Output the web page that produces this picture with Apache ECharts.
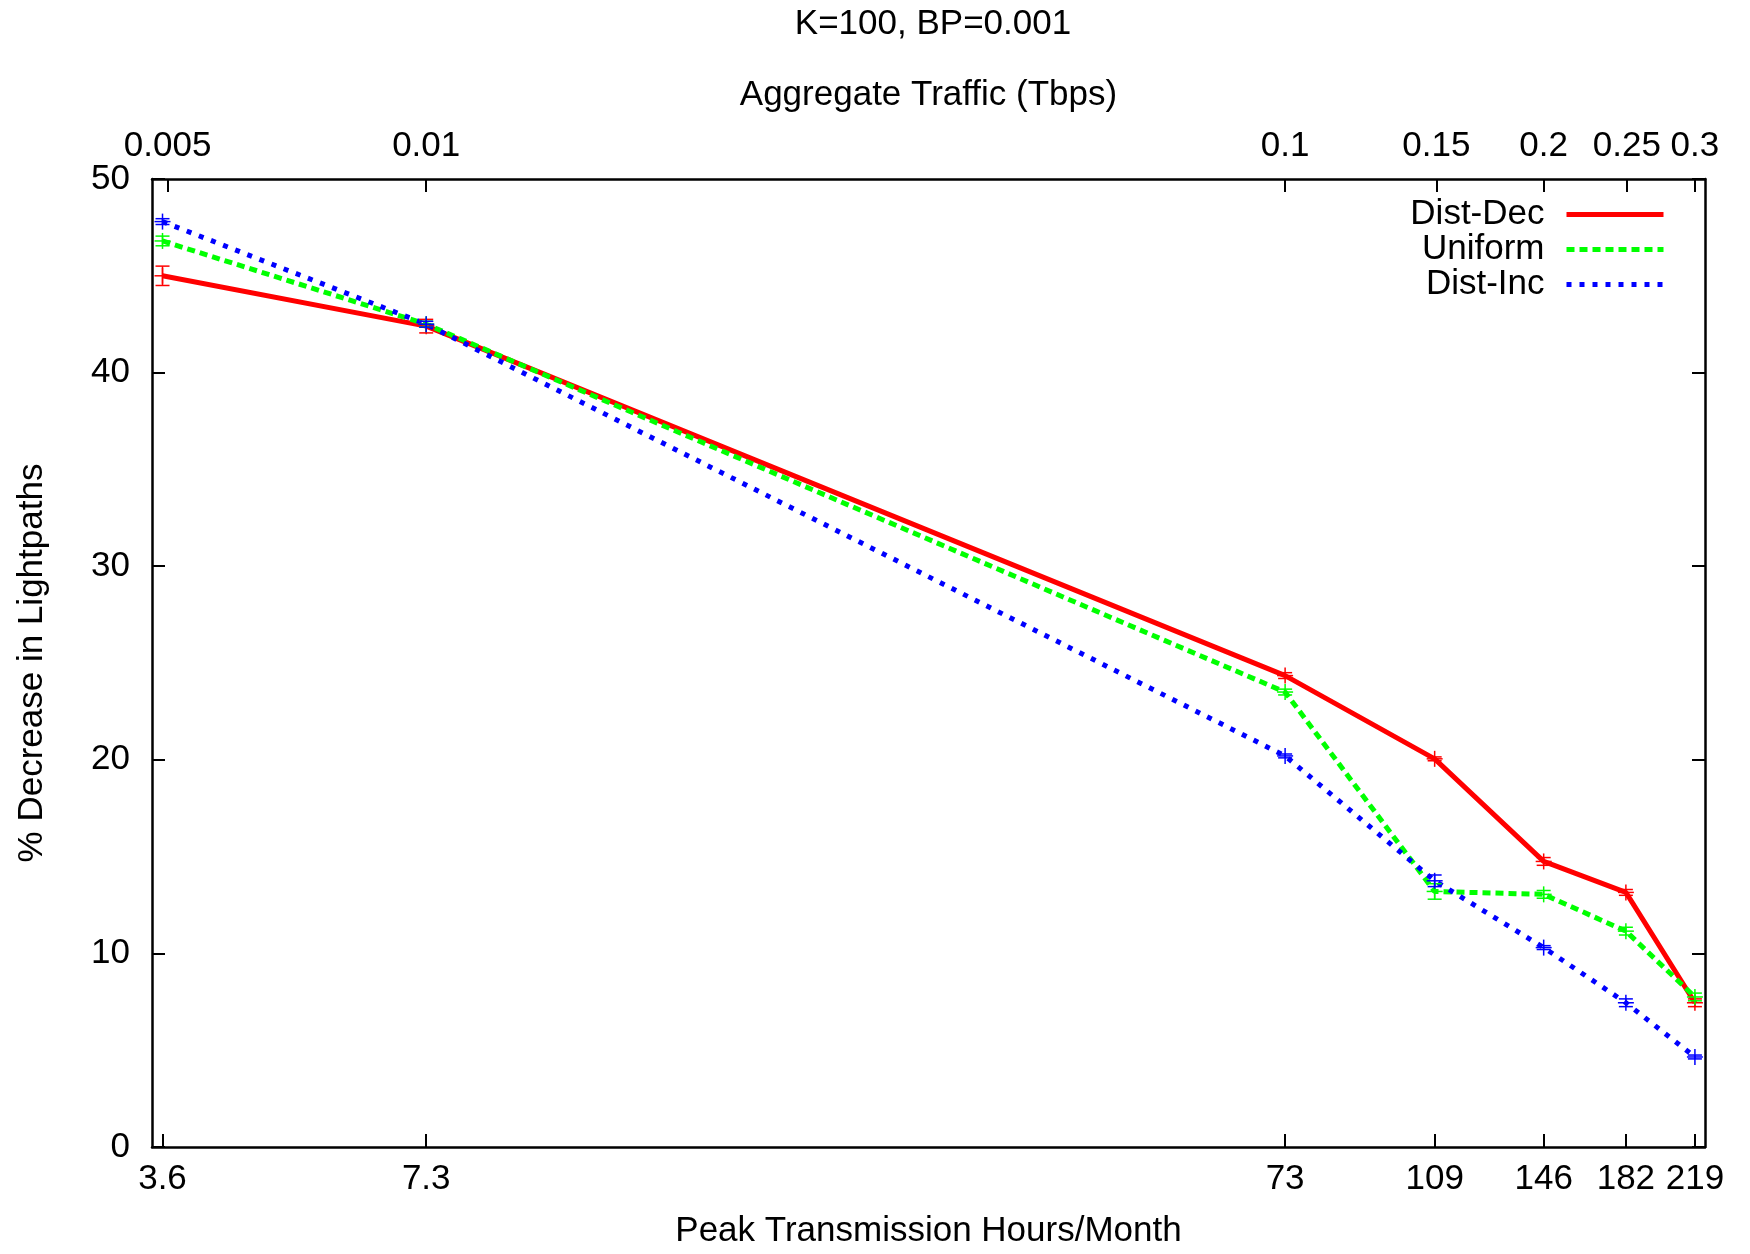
<!DOCTYPE html>
<html>
<head>
<meta charset="utf-8">
<script src="https://cdn.jsdelivr.net/npm/echarts@6/dist/echarts.min.js"></script>
<style>
  html, body { margin: 0; padding: 0; background: #fff; }
  #container { width: 1750px; height: 1254px; }
</style>
</head>
<body>
<div id="container"></div>
<script>
// peak hours/month on bottom axis, aggregate traffic (Tbps) on top (hours ~ traffic * 730)
var hours = [3.6, 7.3, 73, 109, 146, 182, 219];
var hourLabels = ['3.6', '7.3', '73', '109', '146', '182', '219'];
var traffic = [0.005, 0.01, 0.1, 0.15, 0.2, 0.25, 0.3];
var trafficLabels = ['0.005', '0.01', '0.1', '0.15', '0.2', '0.25', '0.3'];

// % decrease in lightpaths
var distDec = [45.0, 42.4, 24.35, 20.05, 14.75, 13.15, 7.45];
var uniform = [46.8, 42.5, 23.5, 13.2, 13.05, 11.15, 7.75];
var distInc = [47.8, 42.5, 20.2, 13.75, 10.3, 7.45, 4.65];

// error bar half widths
var errDec = [0.5, 0.35, 0.15, 0.1, 0.2, 0.15, 0.2];
var errUni = [0.25, 0.15, 0.15, 0.4, 0.2, 0.2, 0.2];
var errInc = [0.15, 0.15, 0.1, 0.3, 0.1, 0.2, 0.1];

var FONT = "'Liberation Sans', Arial, sans-serif";
var FS = 35;
var myChart = null;

function pick(labels, vals, v) {
    var best = 0;
    for (var i = 0; i < vals.length; i++) {
        if (Math.abs(Math.log(vals[i]) - Math.log(v)) < Math.abs(Math.log(vals[best]) - Math.log(v))) best = i;
    }
    return labels[best];
}

function pairs(ys) {
    var out = [];
    for (var i = 0; i < hours.length; i++) out.push([hours[i], ys[i]]);
    return out;
}

function triples(ys, es) {
    var out = [];
    for (var i = 0; i < hours.length; i++) out.push([hours[i], ys[i], es[i]]);
    return out;
}

// error bar + "+" point marker, like gnuplot yerrorlines
function errRender(color) {
    return function (params, api) {
        var x = api.value(0), y = api.value(1), e = api.value(2);
        var p = api.coord([x, y]);
        var lo = api.coord([x, y - e]);
        var hi = api.coord([x, y + e]);
        var st = { stroke: color, lineWidth: 1.5 };
        var c = 7, m = 8;
        return {
            type: 'group',
            children: [
                { type: 'line', shape: { x1: lo[0], y1: lo[1], x2: hi[0], y2: hi[1] }, style: st },
                { type: 'line', shape: { x1: lo[0] - c, y1: lo[1], x2: lo[0] + c, y2: lo[1] }, style: st },
                { type: 'line', shape: { x1: hi[0] - c, y1: hi[1], x2: hi[0] + c, y2: hi[1] }, style: st },
                { type: 'line', shape: { x1: p[0] - m, y1: p[1], x2: p[0] + m, y2: p[1] }, style: st },
                { type: 'line', shape: { x1: p[0], y1: p[1] - m, x2: p[0], y2: p[1] + m }, style: st }
            ]
        };
    };
}

var axisLine = { show: true, onZero: false, lineStyle: { color: '#000', width: 2.5 } };
var tickStyle = { color: '#000', width: 2 };
var nameStyle = { fontFamily: FONT, fontSize: FS, color: '#000' };

var option = {
    animation: false,
    backgroundColor: '#fff',
    textStyle: { fontFamily: FONT },
    title: {
        text: 'K=100, BP=0.001',
        left: 928,
        textAlign: 'center',
        top: 2,
        textStyle: { fontFamily: FONT, fontSize: FS, fontWeight: 'normal', color: '#000' }
    },
    legend: {
        data: ['Dist-Dec', 'Uniform', 'Dist-Inc'],
        orient: 'vertical',
        align: 'right',
        right: 79,
        top: 192,
        itemGap: 0,
        itemWidth: 97,
        itemHeight: 20,
        itemStyle: { opacity: 0 },
        lineStyle: { width: 5 },
        textStyle: {
            fontFamily: FONT, fontSize: FS, color: '#000',
            width: 160, align: 'right', lineHeight: 35, padding: [0, 17, 0, 0]
        }
    },
    grid: { left: 152, right: 45, top: 179, bottom: 106 },
    xAxis: [
        {
            type: 'log',
            position: 'bottom',
            min: 3.5,
            max: 225,
            name: 'Peak Transmission Hours/Month',
            nameLocation: 'middle',
            nameGap: 67,
            nameTextStyle: nameStyle,
            axisLine: axisLine,
            axisTick: { show: true, inside: true, length: 13, customValues: hours, lineStyle: tickStyle },
            axisLabel: {
                customValues: hours,
                margin: 15,
                fontFamily: FONT, fontSize: FS, color: '#000',
                formatter: function (v) { return pick(hourLabels, hours, v); }
            },
            splitLine: { show: false },
            minorTick: { show: false }
        },
        {
            type: 'log',
            position: 'top',
            min: 3.5 / 730,
            max: 225 / 730,
            name: 'Aggregate Traffic (Tbps)',
            nameLocation: 'middle',
            nameGap: 66,
            nameTextStyle: nameStyle,
            axisLine: axisLine,
            axisTick: { show: true, inside: true, length: 13, customValues: traffic, lineStyle: tickStyle },
            axisLabel: {
                customValues: traffic,
                margin: 15,
                fontFamily: FONT, fontSize: FS, color: '#000',
                formatter: function (v) { return pick(trafficLabels, traffic, v); }
            },
            splitLine: { show: false }
        }
    ],
    yAxis: [
        {
            type: 'value',
            position: 'left',
            min: 0,
            max: 50,
            interval: 10,
            name: '% Decrease in Lightpaths',
            nameLocation: 'middle',
            nameGap: 102,
            nameTextStyle: nameStyle,
            axisLine: axisLine,
            axisTick: { show: true, inside: true, length: 13, lineStyle: tickStyle },
            axisLabel: { margin: 22, fontFamily: FONT, fontSize: FS, color: '#000' },
            splitLine: { show: false }
        },
        {
            type: 'value',
            position: 'right',
            min: 0,
            max: 50,
            interval: 10,
            axisLine: axisLine,
            axisTick: { show: true, inside: true, length: 13, lineStyle: tickStyle },
            axisLabel: { show: false },
            splitLine: { show: false }
        }
    ],
    series: [
        {
            name: 'Dist-Dec', type: 'line', symbol: 'none', z: 3,
            data: pairs(distDec),
            lineStyle: { color: '#ff0000', width: 5, type: 'solid' },
            itemStyle: { color: '#ff0000' }
        },
        {
            name: 'Uniform', type: 'line', symbol: 'none', z: 4,
            data: pairs(uniform),
            lineStyle: { color: '#00ff00', width: 5, type: [8, 5] },
            itemStyle: { color: '#00ff00' }
        },
        {
            name: 'Dist-Inc', type: 'line', symbol: 'none', z: 5,
            data: pairs(distInc),
            lineStyle: { color: '#0000ff', width: 5, type: [5, 8] },
            itemStyle: { color: '#0000ff' }
        },
        { name: 'errDec', type: 'custom', z: 6, data: triples(distDec, errDec), renderItem: errRender('#ff0000') },
        { name: 'errUni', type: 'custom', z: 6, data: triples(uniform, errUni), renderItem: errRender('#00ff00') },
        { name: 'errInc', type: 'custom', z: 6, data: triples(distInc, errInc), renderItem: errRender('#0000ff') }
    ]
};

myChart = echarts.init(document.getElementById('container'));
myChart.setOption(option);
</script>
</body>
</html>
